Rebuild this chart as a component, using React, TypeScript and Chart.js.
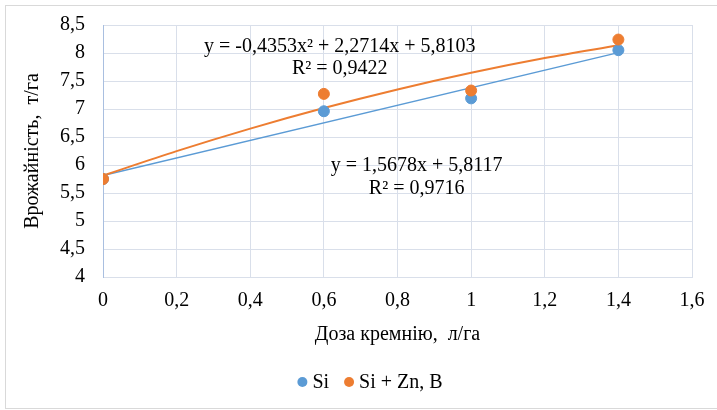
import React, { useEffect, useRef } from "react";
import { Chart, registerables } from "chart.js";

Chart.register(...registerables);

// Data
const doseX = [0, 0.6, 1, 1.4];
const siYield = [5.75, 6.96, 7.19, 8.05];
const siZnBYield = [5.75, 7.27, 7.33, 8.24];

// Trendline values (linear for Si, 2nd-order polynomial for Si + Zn, B)
const linTrendX = [0, 1.4];
const linTrendY = [5.8117, 8.0066];
const polyTrendX = [0, 0.2, 0.4, 0.6, 0.8, 1.0, 1.2, 1.4];
const polyTrendY = [5.8103, 6.2472, 6.6493, 7.0164, 7.3488, 7.6464, 7.9092, 8.1371];

// Trendline equation labels and their anchor (data units)
const eqTexts = [
  "y = -0,4353x² + 2,2714x + 5,8103",
  "R² = 0,9422",
  "y = 1,5678x + 5,8117",
  "R² = 0,9716",
];
const eqAnchorX = [0.643, 0.643, 0.852, 0.852];
const eqAnchorY = [8.106, 7.71, 5.99, 5.58];

const seriesNames = ["Si", "Si + Zn, B"];
const xTitle = "Доза кремнію,  л/га";
const yTitle = "Врожайність,  т/га";

const BLUE = "#5B9BD5";
const ORANGE = "#ED7D31";
const seriesColors = [BLUE, ORANGE];
const FONT = "'Times New Roman', 'Liberation Serif', 'DejaVu Serif', serif";
const FS = 20;

Chart.defaults.font.family = FONT;
Chart.defaults.font.size = FS;
Chart.defaults.color = "#000";

const fmt = (v: number) => String(Number(v.toFixed(2))).replace(".", ",");

export default function App() {
  const ref = useRef<HTMLCanvasElement | null>(null);

  useEffect(() => {
    if (!ref.current) return;
    const labelPlugin = {
      id: "eqLabels",
      afterDatasetsDraw(chart: any) {
        const { ctx, scales } = chart;
        ctx.save();
        ctx.font = `${FS}px ${FONT}`;
        ctx.fillStyle = "#000";
        ctx.textAlign = "center";
        ctx.textBaseline = "middle";
        eqTexts.forEach((t, i) => {
          ctx.fillText(t, scales.x.getPixelForValue(eqAnchorX[i]), scales.y.getPixelForValue(eqAnchorY[i]));
        });

        // Legend (centered slightly right of the canvas centre, as in the reference)
        const r = 5;
        const dotGap = 5;
        const itemGap = 15;
        const widths = seriesNames.map((n) => ctx.measureText(n).width);
        const total = widths.reduce((a: number, w: number) => a + 2 * r + dotGap + w, 0) + itemGap * (seriesNames.length - 1);
        let x = 370 - total / 2;
        const y = 382;
        ctx.textAlign = "left";
        seriesNames.forEach((n, i) => {
          ctx.fillStyle = seriesColors[i];
          ctx.beginPath();
          ctx.arc(x + r, y, r, 0, Math.PI * 2);
          ctx.fill();
          x += 2 * r + dotGap;
          ctx.fillStyle = "#000";
          ctx.fillText(n, x, y + 1);
          x += widths[i] + itemGap;
        });
        ctx.restore();
      },
    };

    const font = { family: FONT, size: FS };
    const chart = new Chart(ref.current, {
      type: "scatter",
      data: {
        datasets: [
          {
            label: seriesNames[1],
            data: doseX.map((x, i) => ({ x, y: siZnBYield[i] })),
            backgroundColor: ORANGE,
            borderColor: ORANGE,
            pointRadius: 5.5,
            pointHoverRadius: 5.5,
            order: 0,
          },
          {
            label: seriesNames[0],
            data: doseX.map((x, i) => ({ x, y: siYield[i] })),
            backgroundColor: BLUE,
            borderColor: BLUE,
            pointRadius: 5.5,
            pointHoverRadius: 5.5,
            order: 1,
          },
          {
            label: "poly",
            data: polyTrendX.map((x, i) => ({ x, y: polyTrendY[i] })),
            showLine: true,
            borderColor: ORANGE,
            borderWidth: 2,
            pointRadius: 0,
            cubicInterpolationMode: "monotone",
            order: 2,
          },
          {
            label: "lin",
            data: linTrendX.map((x, i) => ({ x, y: linTrendY[i] })),
            showLine: true,
            borderColor: BLUE,
            borderWidth: 1.5,
            pointRadius: 0,
            order: 3,
          },
        ],
      },
      options: {
        animation: false,
        responsive: false,
        layout: { padding: { left: 8, right: 25, top: 25, bottom: 50 } },
        plugins: {
          tooltip: { enabled: false },
          legend: { display: false },
        },
        scales: {
          x: {
            type: "linear",
            min: 0,
            max: 1.6,
            ticks: {
              stepSize: 0.2,
              autoSkip: false,
              callback: (v: any) => fmt(Number(v)),
              color: "#000",
              font,
              padding: 12,
              maxRotation: 0,
            },
            grid: { color: "#D9DFEA", lineWidth: 1, drawTicks: false },
            border: { color: "#D9DFEA" },
            title: {
              display: true,
              text: xTitle,
              color: "#000",
              font,
              padding: { top: -2, bottom: 13 },
            },
          },
          y: {
            type: "linear",
            min: 4,
            max: 8.5,
            afterFit: (s: any) => {
              s.width = 95;
              s.paddingTop = 0;
              s.paddingBottom = 0;
            },
            ticks: {
              stepSize: 0.5,
              autoSkip: false,
              callback: (v: any) => fmt(Number(v)),
              color: "#000",
              font,
              padding: 18,
            },
            grid: { color: "#D9DFEA", lineWidth: 1, drawTicks: false },
            border: { color: "#A9BFE0" },
            title: {
              display: true,
              text: yTitle,
              color: "#000",
              font,
              padding: { top: 13, bottom: 0 },
            },
          },
        },
      },
      plugins: [labelPlugin],
    } as any);
    return () => chart.destroy();
  }, []);

  return (
    <div style={{ position: "fixed", left: 0, top: 0, width: 717, height: 410, background: "#fff" }}>
      <div
        style={{
          position: "absolute",
          left: 5,
          top: 5,
          width: 717 - 5,
          height: 410 - 6,
          boxSizing: "border-box",
          border: "1px solid #D9D9D9",
          borderRight: "none",
        }}
      />
      <canvas ref={ref} width={717} height={410} style={{ position: "absolute", left: 0, top: 0 }} />
    </div>
  );
}
